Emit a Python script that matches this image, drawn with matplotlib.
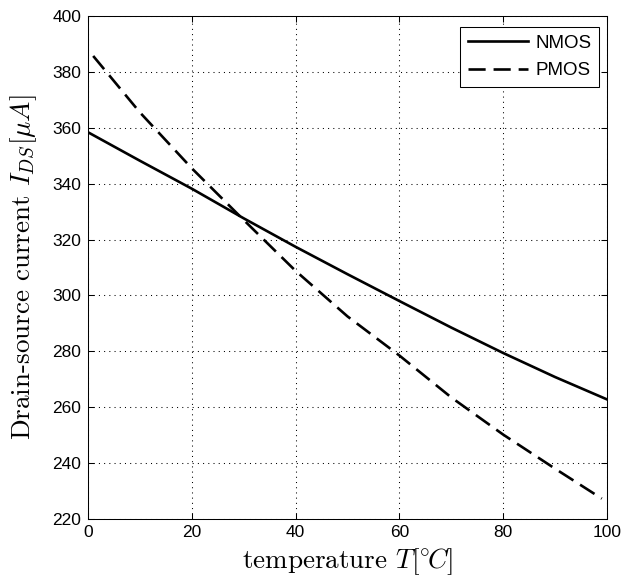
import matplotlib
matplotlib.use('Agg')
import matplotlib.pyplot as plt
import numpy as np

plt.rcParams['mathtext.fontset'] = 'cm'
plt.rcParams['axes.unicode_minus'] = False

temp_nmos = [0, 10, 20, 30, 40, 50, 60, 70, 80, 90, 100]
id_nmos = [358.4, 348.2, 338.2, 327.6, 317.4, 307.6, 298.0, 288.5, 279.4, 270.8, 262.8]

temp_pmos = [1, 10, 20, 30, 40, 50, 60, 70, 80, 90, 99]
id_pmos = [385.7, 365.5, 345.5, 327.0, 308.8, 292.5, 278.5, 263.5, 250.2, 238.0, 227.3]

xticks = [0, 20, 40, 60, 80, 100]
yticks = [220, 240, 260, 280, 300, 320, 340, 360, 380, 400]

fig = plt.figure(figsize=(6.21, 5.78), dpi=100)
ax = fig.add_axes([88/621, 1 - 519/578, 519/621, 503/578])

ax.plot(temp_nmos, id_nmos, color='black', lw=1.9, label='NMOS')
ax.plot(temp_pmos, id_pmos, color='black', lw=1.9, linestyle=(0, (6.5, 3)), label='PMOS')

ax.set_xlim(0, 100)
ax.set_ylim(220, 400)
ax.set_xticks(xticks)
ax.set_yticks(yticks)
ax.grid(True, color='black', linestyle=(0, (1, 4)), lw=0.75)

ax.tick_params(direction='in', length=4, width=0.75, top=True, right=True,
               labelsize=12.5, colors='black')
ax.tick_params(axis='y', pad=5)
ax.tick_params(axis='x', pad=4)
for lab in ax.get_xticklabels() + ax.get_yticklabels():
    lab.set_fontfamily('Liberation Sans')
for sp in ax.spines.values():
    sp.set_linewidth(0.75)

ax.set_xlabel(r'temperature $T[^{\circ}\!C]$', fontfamily='cmr10', fontsize=19.5)
ax.set_ylabel(r'Drain-source current $I_{DS}[\mu A]$', fontfamily='cmr10', fontsize=19.5)
ax.xaxis.set_label_coords(0.5, -0.055)
ax.yaxis.set_label_coords(-0.095, 0.5)

leg = ax.legend(loc='upper right', bbox_to_anchor=(599.3/621, 1 - 26.7/578),
                bbox_transform=fig.transFigure, borderaxespad=0,
                prop={'family': 'Liberation Sans', 'size': 13.5},
                handlelength=3.2, handletextpad=0.4, labelspacing=0.55,
                borderpad=0.42, fancybox=False, framealpha=1)
leg.get_frame().set_edgecolor('black')
leg.get_frame().set_linewidth(0.75)

fig.savefig('out.png', dpi=100)
